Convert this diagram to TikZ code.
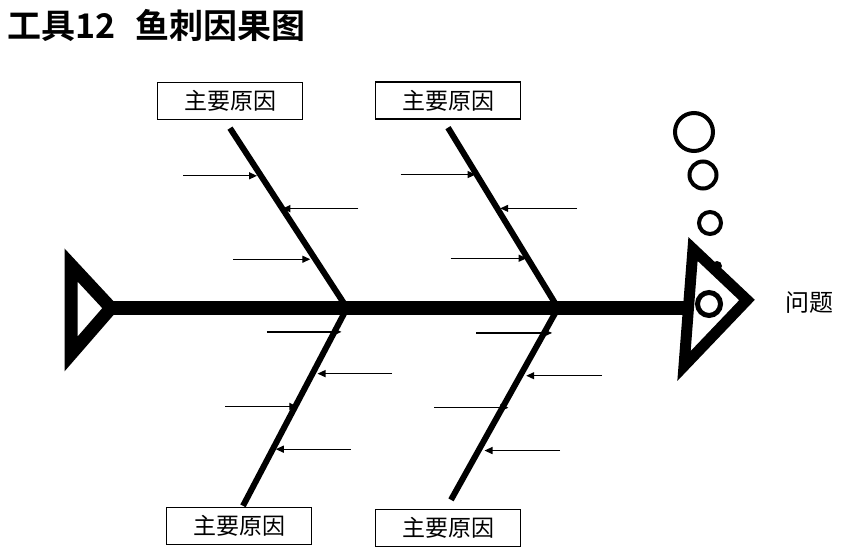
\documentclass[tikz,border=0pt]{standalone}
\usepackage{fontspec}
\newfontfamily\cjk{Noto Sans CJK SC}
\newfontfamily\cjkbold{Noto Sans CJK SC Bold}
\usetikzlibrary{arrows.meta, calc}

\begin{document}
\begin{tikzpicture}[
    x=1pt, y=-1pt,
    every node/.style={font=\cjk},
    headline/.style={anchor=west, inner sep=0pt, font=\cjkbold\fontsize{34}{34}\selectfont},
    cause/.style={rectangle, draw, line width=1.3pt, minimum width=145pt, minimum height=37pt, inner sep=0pt, font=\cjk\fontsize{23}{23}\selectfont},
    problem/.style={inner sep=0pt, font=\cjk\fontsize{24}{24}\selectfont},
    spine/.style={line width=14pt},
    fin/.style={line width=13pt, miter limit=20},
    bone/.style={line width=6pt},
    twig/.style={-{Triangle[length=8pt, width=7pt]}, line width=1.3pt},
    bubble/.style={line width=4pt}
]
\useasboundingbox (0,0) rectangle (849,559);

\node[headline] (title) at (7,25) {工具12\hspace{20pt}鱼刺因果图};

\node[cause] (c1) at (230,101) {主要原因};
\node[cause] (c2) at (448,100.5) {主要原因};
\node[cause] (c3) at (239,526) {主要原因};
\node[cause] (c4) at (448,528) {主要原因};
\node[problem] (prob) at (809,303) {问题};

\coordinate (tail) at (111,308);
\coordinate (head) at (690,308);
\coordinate (j1) at (347,308);
\coordinate (j2) at (558,308);
\path ([yshift=-8pt]c1.south) coordinate (b1)
      ([yshift=-8pt]c2.south) coordinate (b2)
      ([xshift=4pt, yshift=1pt]c3.north) coordinate (b3)
      ([xshift=3pt, yshift=9pt]c4.north) coordinate (b4);

\draw[fin] (71,265) -- (tail) -- (71,354) -- cycle;
\draw[spine] (tail) -- (head);
\draw[fin, line width=11pt] (693,249) -- (747,300) -- (684,366) -- cycle;
\draw[line width=5pt, fill=white] (709,304) circle (11.5);
\fill (717,266) circle (5);

\draw[bubble] (694,132) circle (19);
\draw[bubble] (703,175) circle (13.5);
\draw[bubble] (710,223) circle (11);

\draw[bone] (b1) -- (j1);
\draw[bone] (b2) -- (j2);
\draw[bone] (j1) -- (b3);
\draw[bone] (j2) -- (b4);

\foreach \t/\dx/\s [count=\i] in {0.265/-78/4, 0.4475/76/0, 0.729/-82/5} {
    \coordinate (tl\i) at ($(b1)!\t!(j1)$);
    \draw[twig, shorten >=\s pt] ($(tl\i)+(\dx,0)$) -- (tl\i);
}
\foreach \t/\dx/\s [count=\i] in {0.26/-76/1, 0.4475/80/3, 0.724/-77/1} {
    \coordinate (tr\i) at ($(b2)!\t!(j2)$);
    \draw[twig, shorten >=\s pt] ($(tr\i)+(\dx,0)$) -- (tr\i);
}
\foreach \t/\dx/\s [count=\i] in {0.1206/-67.5/-7, 0.3317/79.5/5, 0.4975/-70/-2, 0.7136/78/3} {
    \coordinate (bl\i) at ($(j1)!\t!(b3)$);
    \draw[twig, shorten >=\s pt] ($(bl\i)+(\dx,0)$) -- (bl\i);
}
\foreach \t/\dx/\s [count=\i] in {0.13/-68/-8, 0.353/82/6, 0.5195/-68/-6, 0.743/81.5/6} {
    \coordinate (br\i) at ($(j2)!\t!(b4)$);
    \draw[twig, shorten >=\s pt] ($(br\i)+(\dx,0)$) -- (br\i);
}
\end{tikzpicture}
\end{document}
